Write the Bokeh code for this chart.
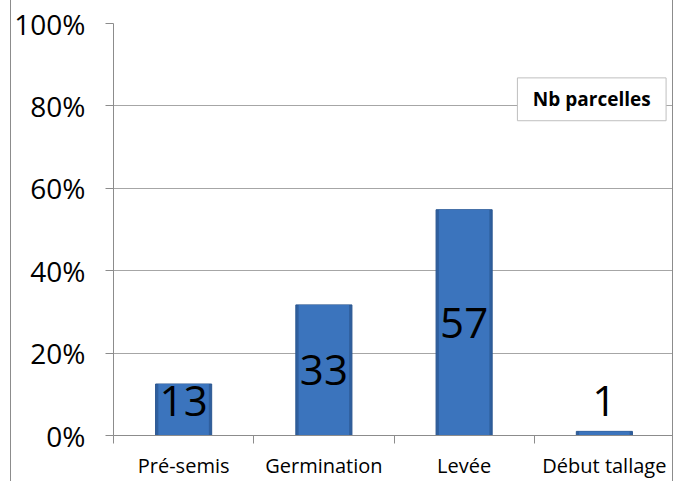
from bokeh.plotting import figure
from bokeh.models import FixedTicker, PrintfTickFormatter, Range1d
from bokeh.core.properties import value
from bokeh.embed import file_html
from bokeh.resources import INLINE

# ---- data ----
categories = ["Pré-semis", "Germination", "Levée", "Début tallage"]
counts = [13, 33, 57, 1]              # Nb parcelles (labels inside bars)
percent = [12.5, 31.7, 54.8, 1.0]     # bar heights in %
y_ticks = [0, 20, 40, 60, 80, 100]
legend_text = "Nb parcelles"

xpos = [i + 0.5 for i in range(len(categories))]
boundaries = list(range(len(categories) + 1))
label_y = [max(v / 2, 8.4) for v in percent]

FONT = "Open Sans"
GRAY = "#8c8c8c"

p = figure(width=663, height=481, output_backend="svg", toolbar_location=None,
           x_range=Range1d(0, len(categories)), y_range=Range1d(0, 100),
           min_border_left=99, min_border_right=0, min_border_top=23,
           min_border_bottom=43, background_fill_color="white",
           border_fill_color="white")
p.styles = {"margin-left": "10px",
            "border-left": "1px solid " + GRAY,
            "border-right": "1px solid " + GRAY}
p.outline_line_color = None

# y axis
p.yaxis.ticker = FixedTicker(ticks=y_ticks)
p.yaxis.formatter = PrintfTickFormatter(format="%d%%")
p.yaxis.major_label_text_font = FONT
p.yaxis.major_label_text_font_size = "28px"
p.yaxis.major_label_text_color = "black"
p.yaxis.major_tick_out = 8
p.yaxis.major_tick_in = 0
p.yaxis.minor_tick_out = 0
p.yaxis.minor_tick_in = 0
p.yaxis.axis_line_color = GRAY
p.yaxis.major_tick_line_color = GRAY
p.yaxis.major_label_standoff = 20

p.ygrid.ticker = FixedTicker(ticks=y_ticks)
p.ygrid.grid_line_color = "#a6a6a6"
p.xgrid.visible = False

# x axis
p.xaxis.ticker = FixedTicker(ticks=xpos, minor_ticks=boundaries)
p.xaxis.major_label_overrides = {x: c for x, c in zip(xpos, categories)}
p.xaxis.major_label_text_font = FONT
p.xaxis.major_label_text_font_size = "20px"
p.xaxis.major_label_text_color = "black"
p.xaxis.major_tick_line_color = None
p.xaxis.major_tick_out = 8
p.xaxis.major_tick_in = 0
p.xaxis.minor_tick_out = 8
p.xaxis.minor_tick_in = 0
p.xaxis.minor_tick_line_color = GRAY
p.xaxis.axis_line_color = GRAY
p.xaxis.major_label_standoff = 8

# bars (simple bevel imitation)
p.vbar(x=xpos, top=percent, width=0.40, fill_color="#2f5f9e", line_color="#2a5690")
p.vbar(x=xpos, top=percent, width=0.36, fill_color="#3b74bd", line_color=None)

# count labels
p.text(x=xpos, y=label_y, text=[str(c) for c in counts], text_align="center",
       text_baseline="middle", text_font=value(FONT), text_font_size="42px",
       text_color="black")

# legend-like box
p.rect(x=[3.41], y=[81.6], width=1.06, height=10.4, fill_color="white",
       line_color="#bfbfbf", line_width=1)
p.text(x=[3.41], y=[81.6], text=[legend_text], text_align="center",
       text_baseline="middle", text_font=value(FONT), text_font_size="19px",
       text_font_style="bold", text_color="black")

open("out.html", "w").write(file_html(p, INLINE))
